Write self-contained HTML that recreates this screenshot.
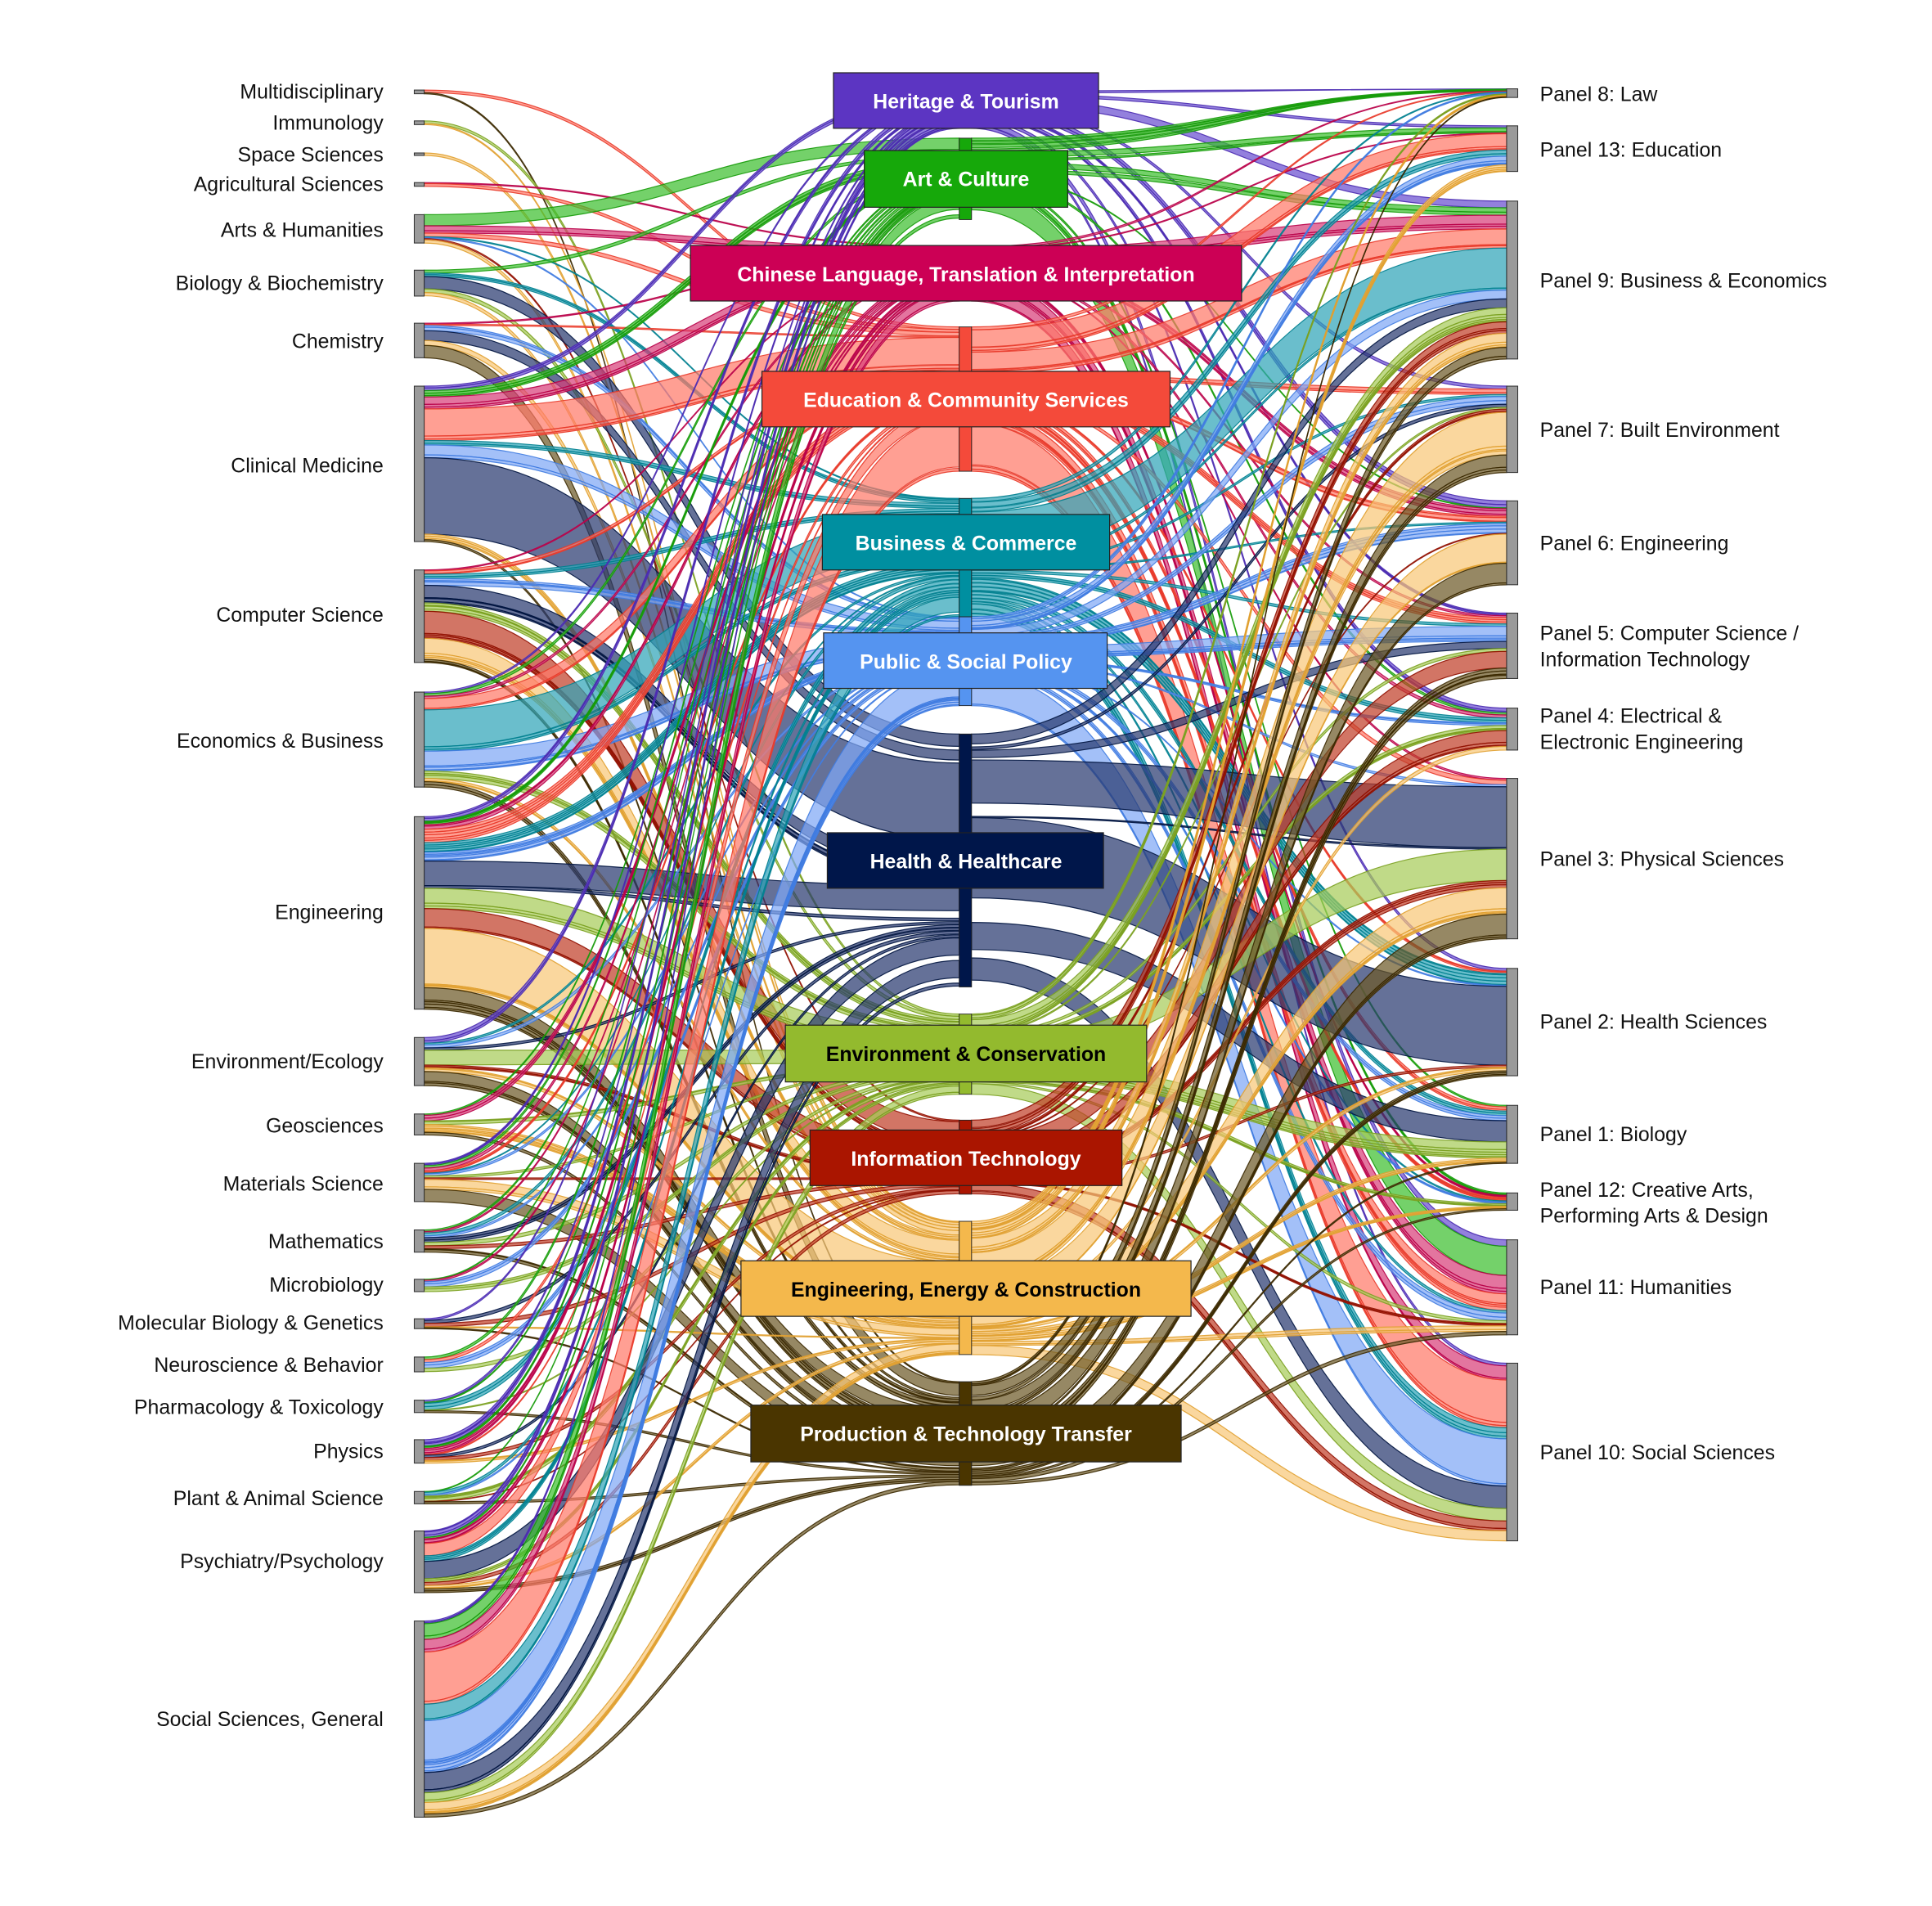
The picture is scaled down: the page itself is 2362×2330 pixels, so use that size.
<!DOCTYPE html>
<html><head><meta charset="utf-8">
<style>
html,body{margin:0;padding:0;background:#fff;}
svg{display:block;}
.lt{font-family:"Liberation Sans",sans-serif;font-size:16.5px;fill:#111;}
.bt{font-family:"Liberation Sans",sans-serif;font-size:16.5px;font-weight:bold;}
</style></head>
<body>
<svg id="s" width="2362" height="2330" viewBox="0 0 1567 1545" preserveAspectRatio="none" xmlns="http://www.w3.org/2000/svg">
<g id="flows"></g>
<g id="bars"></g>
<g id="boxes">
<rect x="676" y="59" width="215" height="45" fill="#5c35c2" stroke="#222" stroke-width="0.8"/>
<text class="bt" x="783.5" y="88" text-anchor="middle" fill="#fff">Heritage &amp; Tourism</text>
<rect x="701" y="122" width="165" height="46" fill="#16a80a" stroke="#222" stroke-width="0.8"/>
<text class="bt" x="783.5" y="151" text-anchor="middle" fill="#fff">Art &amp; Culture</text>
<rect x="560" y="199" width="447" height="45" fill="#cc0055" stroke="#222" stroke-width="0.8"/>
<text class="bt" x="783.5" y="228" text-anchor="middle" fill="#fff">Chinese Language, Translation &amp; Interpretation</text>
<rect x="618" y="301" width="331" height="45" fill="#f44a3a" stroke="#222" stroke-width="0.8"/>
<text class="bt" x="783.5" y="330" text-anchor="middle" fill="#fff">Education &amp; Community Services</text>
<rect x="667" y="417" width="233" height="45" fill="#008fa0" stroke="#222" stroke-width="0.8"/>
<text class="bt" x="783.5" y="446" text-anchor="middle" fill="#fff">Business &amp; Commerce</text>
<rect x="668" y="513" width="230" height="45" fill="#5594f0" stroke="#222" stroke-width="0.8"/>
<text class="bt" x="783.5" y="542" text-anchor="middle" fill="#fff">Public &amp; Social Policy</text>
<rect x="671" y="675" width="224" height="45" fill="#00164a" stroke="#222" stroke-width="0.8"/>
<text class="bt" x="783.5" y="704" text-anchor="middle" fill="#fff">Health &amp; Healthcare</text>
<rect x="637" y="831" width="293" height="46" fill="#93ba2e" stroke="#222" stroke-width="0.8"/>
<text class="bt" x="783.5" y="860" text-anchor="middle" fill="#000">Environment &amp; Conservation</text>
<rect x="657" y="916" width="253" height="45" fill="#aa1500" stroke="#222" stroke-width="0.8"/>
<text class="bt" x="783.5" y="945" text-anchor="middle" fill="#fff">Information Technology</text>
<rect x="601" y="1022" width="365" height="45" fill="#f4b84c" stroke="#222" stroke-width="0.8"/>
<text class="bt" x="783.5" y="1051" text-anchor="middle" fill="#000">Engineering, Energy &amp; Construction</text>
<rect x="609" y="1139" width="349" height="46" fill="#4a3500" stroke="#222" stroke-width="0.8"/>
<text class="bt" x="783.5" y="1168" text-anchor="middle" fill="#fff">Production &amp; Technology Transfer</text>
</g>
<g id="labels">
<text class="lt" x="311" y="80" text-anchor="end">Multidisciplinary</text>
<text class="lt" x="311" y="105" text-anchor="end">Immunology</text>
<text class="lt" x="311" y="131" text-anchor="end">Space Sciences</text>
<text class="lt" x="311" y="155" text-anchor="end">Agricultural Sciences</text>
<text class="lt" x="311" y="192" text-anchor="end">Arts &amp; Humanities</text>
<text class="lt" x="311" y="235" text-anchor="end">Biology &amp; Biochemistry</text>
<text class="lt" x="311" y="282" text-anchor="end">Chemistry</text>
<text class="lt" x="311" y="383" text-anchor="end">Clinical Medicine</text>
<text class="lt" x="311" y="504" text-anchor="end">Computer Science</text>
<text class="lt" x="311" y="606" text-anchor="end">Economics &amp; Business</text>
<text class="lt" x="311" y="745" text-anchor="end">Engineering</text>
<text class="lt" x="311" y="866" text-anchor="end">Environment/Ecology</text>
<text class="lt" x="311" y="918" text-anchor="end">Geosciences</text>
<text class="lt" x="311" y="965" text-anchor="end">Materials Science</text>
<text class="lt" x="311" y="1012" text-anchor="end">Mathematics</text>
<text class="lt" x="311" y="1047" text-anchor="end">Microbiology</text>
<text class="lt" x="311" y="1078" text-anchor="end">Molecular Biology &amp; Genetics</text>
<text class="lt" x="311" y="1112" text-anchor="end">Neuroscience &amp; Behavior</text>
<text class="lt" x="311" y="1146" text-anchor="end">Pharmacology &amp; Toxicology</text>
<text class="lt" x="311" y="1182" text-anchor="end">Physics</text>
<text class="lt" x="311" y="1220" text-anchor="end">Plant &amp; Animal Science</text>
<text class="lt" x="311" y="1271" text-anchor="end">Psychiatry/Psychology</text>
<text class="lt" x="311" y="1399" text-anchor="end">Social Sciences, General</text>

<text class="lt" x="1249" y="82">Panel 8: Law</text>
<text class="lt" x="1249" y="127">Panel 13: Education</text>
<text class="lt" x="1249" y="233">Panel 9: Business &amp; Economics</text>
<text class="lt" x="1249" y="354">Panel 7: Built Environment</text>
<text class="lt" x="1249" y="446">Panel 6: Engineering</text>
<text class="lt" x="1249" y="519">Panel 5: Computer Science /</text>
<text class="lt" x="1249" y="540">Information Technology</text>
<text class="lt" x="1249" y="586">Panel 4: Electrical &amp;</text>
<text class="lt" x="1249" y="607">Electronic Engineering</text>
<text class="lt" x="1249" y="702">Panel 3: Physical Sciences</text>
<text class="lt" x="1249" y="834">Panel 2: Health Sciences</text>
<text class="lt" x="1249" y="925">Panel 1: Biology</text>
<text class="lt" x="1249" y="970">Panel 12: Creative Arts,</text>
<text class="lt" x="1249" y="991">Performing Arts &amp; Design</text>
<text class="lt" x="1249" y="1049">Panel 11: Humanities</text>
<text class="lt" x="1249" y="1183">Panel 10: Social Sciences</text>
</g>
</svg>
<script>
(function(){
var L=[[73,76],[98,101],[124,126],[148,151],[174,197],[219,240],[262,290],[313,439],[462,537],[561,638],[662,818],[841,880],[903,920],[943,974],[997,1015],[1037,1047],[1069,1077],[1100,1112],[1135,1145],[1167,1186],[1209,1219],[1241,1291],[1314,1473]];
var R=[[72,79],[102,139],[163,291],[313,383],[406,474],[497,550],[574,608],[631,761],[785,872],[896,943],[967,981],[1005,1082],[1105,1249]];
var C=[
["#6a4fd0","#4a2ab0",74,104,"#5c35c2"],
["#3fbf30","#159a08",112,178,"#16a80a"],
["#d8407a","#b80048",200,244,"#cc0055"],
["#ff7a6a","#e83a2a",265,382,"#f44a3a"],
["#30a5b8","#00808f",404,500,"#008fa0"],
["#7fa8f5","#3f7be0",500,572,"#5594f0"],
["#2a3a70","#00143f",595,800,"#00164a"],
["#a8cc5a","#7aa020",822,887,"#93ba2e"],
["#c0402a","#901000",908,968,"#aa1500"],
["#f8c878","#e0a030",990,1098,"#f4b84c"],
["#6e5a28","#3a2800",1120,1204,"#4a3500"]];
var s=12345;function rnd(){s=(s*1103515245+12345)%2147483648;return s/2147483648;}
var bigL={7:[[6,62],[3,22],[5,8],[2,6]],9:[[4,30],[5,12],[3,8]],10:[[9,45],[6,20],[8,15],[7,12],[10,10]],22:[[3,40],[5,32],[4,12],[1,10],[2,8],[6,14],[7,6],[9,6]],8:[[8,18],[9,12],[6,10]],21:[[6,14],[3,10]],4:[[1,9],[2,4],[3,3]],11:[[7,12],[10,8]],13:[[10,10],[9,6]],5:[[6,10],[7,3]],6:[[6,8],[10,10],[9,4]]};
var lf=[],cin=[];for(var i=0;i<C.length;i++)cin.push(0);
for(var li=0;li<L.length;li++){
 var h=L[li][1]-L[li][0],rem=h,arr=[];
 var b=bigL[li]||[];
 for(var k=0;k<b.length;k++){var w=Math.min(b[k][1],rem);arr.push([b[k][0],w]);rem-=w;}
 while(rem>0.3){var w=Math.min(rem,0.6+rnd()*2.2);arr.push([Math.floor(rnd()*C.length),w]);rem-=w;}
 arr.sort(function(a,b){return a[0]-b[0];});
 var y=L[li][0];
 for(var k=0;k<arr.length;k++){lf.push({li:li,ci:arr[k][0],w:arr[k][1],y:y});y+=arr[k][1];cin[arr[k][0]]+=arr[k][1];}
}
var bigR={6:[[7,35],[8,65],[9,22],[12,18],[2,8],[5,6]],3:[[2,14],[1,14],[12,34],[11,6]],4:[[2,36],[1,4],[12,4]],5:[[12,36],[5,8],[2,8],[1,5]],9:[[4,20],[3,22],[7,12],[12,8],[2,8]],8:[[5,14],[6,8],[2,6],[12,6]],1:[[11,18],[2,4],[1,4]],7:[[7,18],[12,10],[9,8],[2,6]],10:[[4,14],[7,12],[2,8],[3,8]],2:[[2,8],[11,8],[12,10]],0:[[2,6],[11,4]]};
var rf=[],rin=[];for(var i=0;i<R.length;i++)rin.push(0);
for(var ci=0;ci<C.length;ci++){
 var rem=cin[ci],arr=[],b=bigR[ci]||[];
 for(var k=0;k<b.length;k++){var w=Math.min(b[k][1],rem);if(w>0){arr.push([b[k][0],w]);rem-=w;}}
 while(rem>0.3){var w=Math.min(rem,0.6+rnd()*2.2);arr.push([Math.floor(rnd()*R.length),w]);rem-=w;}
 for(var k=0;k<arr.length;k++){rf.push({ci:ci,ri:arr[k][0],w:arr[k][1]});rin[arr[k][0]]+=arr[k][1];}
}
rf.sort(function(a,b){return a.ci-b.ci;});
var rcur=R.map(function(r){return r[0];});
for(var k=0;k<rf.length;k++){var f=rf[k],r=R[f.ri],sc=(r[1]-r[0])/rin[f.ri];f.w2=f.w*sc;f.y2=rcur[f.ri];rcur[f.ri]+=f.w2;}
function spread(list,ci,key){var tot=0;list.forEach(function(f){tot+=f.w;});var c=C[ci],span=c[3]-c[2],acc=0;
 list.forEach(function(f){var sc=Math.min(1,span/tot);f[key]=c[2]+acc*(span/tot);f[key+"w"]=Math.max(f.w*sc,0.6);acc+=f.w;});}
for(var ci=0;ci<C.length;ci++){
 var ins=lf.filter(function(f){return f.ci==ci;}).sort(function(a,b){return a.li-b.li;});
 spread(ins,ci,"cy");
 var outs=rf.filter(function(f){return f.ci==ci;}).sort(function(a,b){return a.ri-b.ri;});
 spread(outs,ci,"cy");
}
var g=document.getElementById("flows"),out=[];
function ribbon(x1,y1,w1,x2,y2,w2,ci){
 var mx=(x1+x2)/2;
 var d="M"+x1+","+y1+" C"+mx+","+y1+" "+mx+","+y2+" "+x2+","+y2+" L"+x2+","+(y2+w2)+" C"+mx+","+(y2+w2)+" "+mx+","+(y1+w1)+" "+x1+","+(y1+w1)+" Z";
 out.push('<path d="'+d+'" fill="'+C[ci][0]+'" fill-opacity="0.72" stroke="'+C[ci][1]+'" stroke-width="0.8" stroke-opacity="0.9"/>');
}
lf.forEach(function(f){ribbon(344,f.y,f.w,778,f.cy,f.cyw,f.ci);});
rf.forEach(function(f){ribbon(788,f.cy,f.cyw,1222,f.y2,f.w2,f.ci);});
g.innerHTML=out.join("");
var bs=[];
C.forEach(function(c){bs.push('<rect x="778" y="'+c[2]+'" width="10" height="'+(c[3]-c[2])+'" fill="'+c[4]+'" stroke="#222" stroke-width="0.6"/>');});
L.forEach(function(l){bs.push('<rect x="336" y="'+l[0]+'" width="8" height="'+Math.max(l[1]-l[0],2)+'" fill="#9a9a9a" stroke="#333" stroke-width="0.7"/>');});
R.forEach(function(r){bs.push('<rect x="1222" y="'+r[0]+'" width="9" height="'+(r[1]-r[0])+'" fill="#9a9a9a" stroke="#333" stroke-width="0.7"/>');});
document.getElementById("bars").innerHTML=bs.join("");
})();
</script>
</body></html>
